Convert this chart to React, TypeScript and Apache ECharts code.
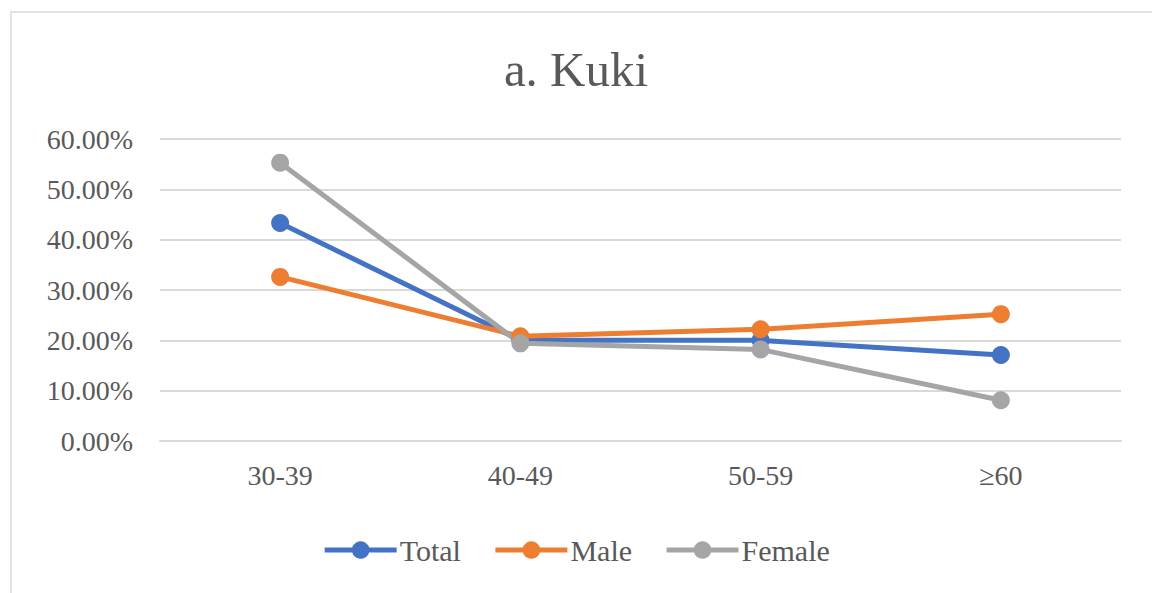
import React, { useEffect, useRef } from "react";
import * as echarts from "echarts";

const categories = ["30-39", "40-49", "50-59", "≥60"];
const totalValues = [43.3, 20.0, 20.0, 17.1];
const maleValues = [32.6, 20.8, 22.2, 25.2];
const femaleValues = [55.3, 19.4, 18.2, 8.1];
const seriesNames = ["Total", "Male", "Female"];
const seriesColors = ["#4472C4", "#ED7D31", "#A5A5A5"];
const titleText = "a. Kuki";

const FONT = "Liberation Serif";

export default function App() {
  const ref = useRef<HTMLDivElement>(null);
  useEffect(() => {
    if (!ref.current) return;
    const chart = echarts.init(ref.current, undefined, { renderer: "svg" });
    const data = [totalValues, maleValues, femaleValues];
    chart.setOption({
      animation: false,
      backgroundColor: "#ffffff",
      title: {
        text: titleText,
        left: "center",
        top: 40,
        textStyle: { fontFamily: FONT, fontSize: 49, fontWeight: "normal", color: "#595959" },
      },
      graphic: [
        {
          type: "rect",
          shape: { x: 11, y: 12, width: 1200, height: 620 },
          style: { fill: "none", stroke: "#E3E3E3", lineWidth: 2 },
          silent: true,
        },
      ],
      legend: {
        data: seriesNames,
        left: "center",
        top: 530,
        itemWidth: 72,
        itemHeight: 22,
        itemGap: 32,
        lineStyle: { width: 5 },
        textStyle: { fontFamily: FONT, fontSize: 30, color: "#595959", padding: [0, 0, 0, -2] },
      },
      grid: { left: 160, right: 31, top: 139, bottom: 152, containLabel: false },
      xAxis: {
        type: "category",
        data: categories,
        boundaryGap: true,
        axisLine: { show: true, lineStyle: { color: "#D9D9D9", width: 2 } },
        axisTick: { show: false },
        axisLabel: { fontFamily: FONT, fontSize: 28, color: "#595959", margin: 20 },
      },
      yAxis: {
        type: "value",
        min: 0,
        max: 60,
        interval: 10,
        axisLine: { show: false },
        axisTick: { show: false },
        splitLine: { lineStyle: { color: "#D9D9D9", width: 2 } },
        axisLabel: {
          fontFamily: FONT,
          fontSize: 28,
          color: "#595959",
          margin: 27,
          formatter: (v: number) => v.toFixed(2) + "%",
        },
      },
      series: seriesNames.map((name, i) => ({
        name,
        type: "line",
        data: data[i],
        symbol: "circle",
        symbolSize: 18,
        lineStyle: { width: 5, color: seriesColors[i] },
        itemStyle: { color: seriesColors[i] },
      })),
    });
    return () => chart.dispose();
  }, []);
  return (
    <div
      ref={ref}
      style={{ position: "absolute", left: 0, top: 0, width: 1152, height: 593 }}
    />
  );
}
